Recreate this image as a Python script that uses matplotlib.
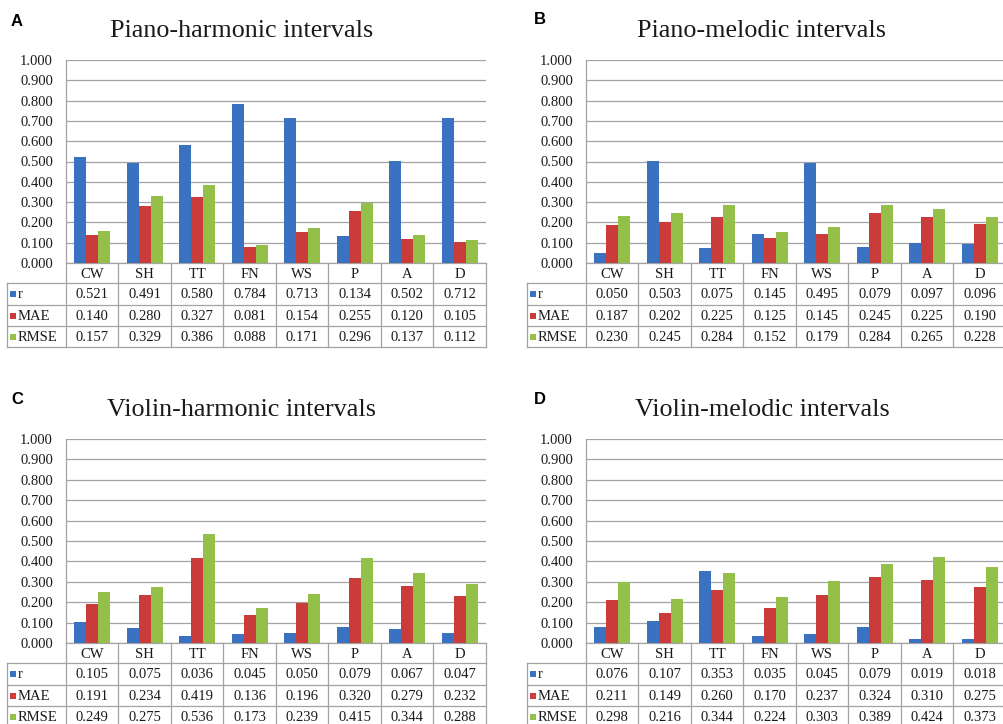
import numpy as np
import matplotlib.pyplot as plt

W, H = 1004, 724

cats = ['CW', 'SH', 'TT', 'FN', 'WS', 'P', 'A', 'D']
series = ['r', 'MAE', 'RMSE']
colors = ['#3a71c0', '#c93c3a', '#94bf48']

titles = ['Piano-harmonic intervals', 'Piano-melodic intervals',
          'Violin-harmonic intervals', 'Violin-melodic intervals']
letters = ['A', 'B', 'C', 'D']

piano_harm_r = [0.521, 0.491, 0.580, 0.784, 0.713, 0.134, 0.502, 0.712]
piano_harm_mae = [0.140, 0.280, 0.327, 0.081, 0.154, 0.255, 0.120, 0.105]
piano_harm_rmse = [0.157, 0.329, 0.386, 0.088, 0.171, 0.296, 0.137, 0.112]

piano_mel_r = [0.050, 0.503, 0.075, 0.145, 0.495, 0.079, 0.097, 0.096]
piano_mel_mae = [0.187, 0.202, 0.225, 0.125, 0.145, 0.245, 0.225, 0.190]
piano_mel_rmse = [0.230, 0.245, 0.284, 0.152, 0.179, 0.284, 0.265, 0.228]

violin_harm_r = [0.105, 0.075, 0.036, 0.045, 0.050, 0.079, 0.067, 0.047]
violin_harm_mae = [0.191, 0.234, 0.419, 0.136, 0.196, 0.320, 0.279, 0.232]
violin_harm_rmse = [0.249, 0.275, 0.536, 0.173, 0.239, 0.415, 0.344, 0.288]

violin_mel_r = [0.076, 0.107, 0.353, 0.035, 0.045, 0.079, 0.019, 0.018]
violin_mel_mae = [0.211, 0.149, 0.260, 0.170, 0.237, 0.324, 0.310, 0.275]
violin_mel_rmse = [0.298, 0.216, 0.344, 0.224, 0.303, 0.389, 0.424, 0.373]

panels_data = [
    [piano_harm_r, piano_harm_mae, piano_harm_rmse],
    [piano_mel_r, piano_mel_mae, piano_mel_rmse],
    [violin_harm_r, violin_harm_mae, violin_harm_rmse],
    [violin_mel_r, violin_mel_mae, violin_mel_rmse],
]

# layout in pixels: (plot left, plot top, plot bottom, table label left, title x, title baseline, letter x, letter y)
layout = [
    (66, 60, 263, 7, 242, 37, 11, 21),
    (586, 60, 263, 527, 762, 37, 534, 20),
    (66, 439, 643, 7, 242, 416, 11, 400),
    (586, 439, 643, 527, 762, 416, 534, 400),
]
col_w = 52.5
row_off = [0, 20, 42, 63, 84]
gridc = '#a3a3a3'
serif = 'Liberation Serif'
txtc = '#1a1a1a'

fig = plt.figure(figsize=(W / 100, H / 100), dpi=100)
ov = fig.add_axes([0, 0, 1, 1])
ov.set_xlim(0, W)
ov.set_ylim(H, 0)
ov.axis('off')

x = np.arange(len(cats))
bw = 0.229

for k in range(4):
    left, top, bottom, lab_left, tx, ty, lx, ly = layout[k]
    right = left + col_w * len(cats)
    ax = fig.add_axes([left / W, 1 - bottom / H, (right - left) / W, (bottom - top) / H])
    ax.set_facecolor('none')
    ax.set_zorder(2)
    for i in range(3):
        ax.bar(x + (i - 1) * bw, panels_data[k][i], width=bw, color=colors[i],
               edgecolor='none', zorder=3)
    ax.set_xlim(-0.5, len(cats) - 0.5)
    ax.set_ylim(0, 1)
    ticks = np.arange(0, 1.01, 0.1)
    ax.set_yticks(ticks)
    ax.set_yticklabels(['%.3f' % t for t in ticks], fontfamily=serif, fontsize=10.5, color=txtc)
    ax.set_xticks([])
    ax.tick_params(axis='y', length=0, pad=9.4)
    ax.grid(axis='y', color=gridc, lw=0.9, zorder=0)
    for s in ['top', 'right']:
        ax.spines[s].set_visible(False)
    ax.spines['left'].set_color(gridc)
    ax.spines['bottom'].set_color(gridc)
    ax.spines['left'].set_linewidth(0.9)
    ax.spines['bottom'].set_linewidth(0.9)

    # title and panel letter
    ov.text(tx, ty, titles[k], fontfamily=serif, fontsize=18.8, ha='center', va='baseline', color=txtc)
    ov.text(lx, ly, letters[k], fontfamily='Liberation Sans', fontweight='bold', fontsize=12,
            ha='left', va='center', color='black')

    # data table
    ys = [bottom + o for o in row_off]
    for y in ys[1:]:
        ov.plot([lab_left, right], [y, y], color=gridc, lw=0.9)
    ov.plot([lab_left, lab_left], [ys[1], ys[-1]], color=gridc, lw=0.9)
    ov.plot([left, left], [bottom, ys[-1]], color=gridc, lw=0.9)
    for j in range(1, len(cats) + 1):
        xx = left + j * col_w
        ov.plot([xx, xx], [bottom, ys[-1]], color=gridc, lw=0.9)
    for j, c in enumerate(cats):
        cx = left + (j + 0.5) * col_w
        ov.text(cx, (ys[0] + ys[1]) / 2 + 1, c, fontfamily=serif, fontsize=10.5,
                ha='center', va='center', color=txtc)
        for i in range(3):
            ov.text(cx, (ys[i + 1] + ys[i + 2]) / 2 + 1, '%.3f' % panels_data[k][i][j],
                    fontfamily=serif, fontsize=10.5, ha='center', va='center', color=txtc)
    for i in range(3):
        yc = (ys[i + 1] + ys[i + 2]) / 2
        ov.add_patch(plt.Rectangle((lab_left + 3, yc - 3), 6, 6, color=colors[i], lw=0))
        ov.text(lab_left + 11, yc + 1, series[i], fontfamily=serif, fontsize=10.5,
                ha='left', va='center', color=txtc)

fig.savefig('out.png', dpi=100)
